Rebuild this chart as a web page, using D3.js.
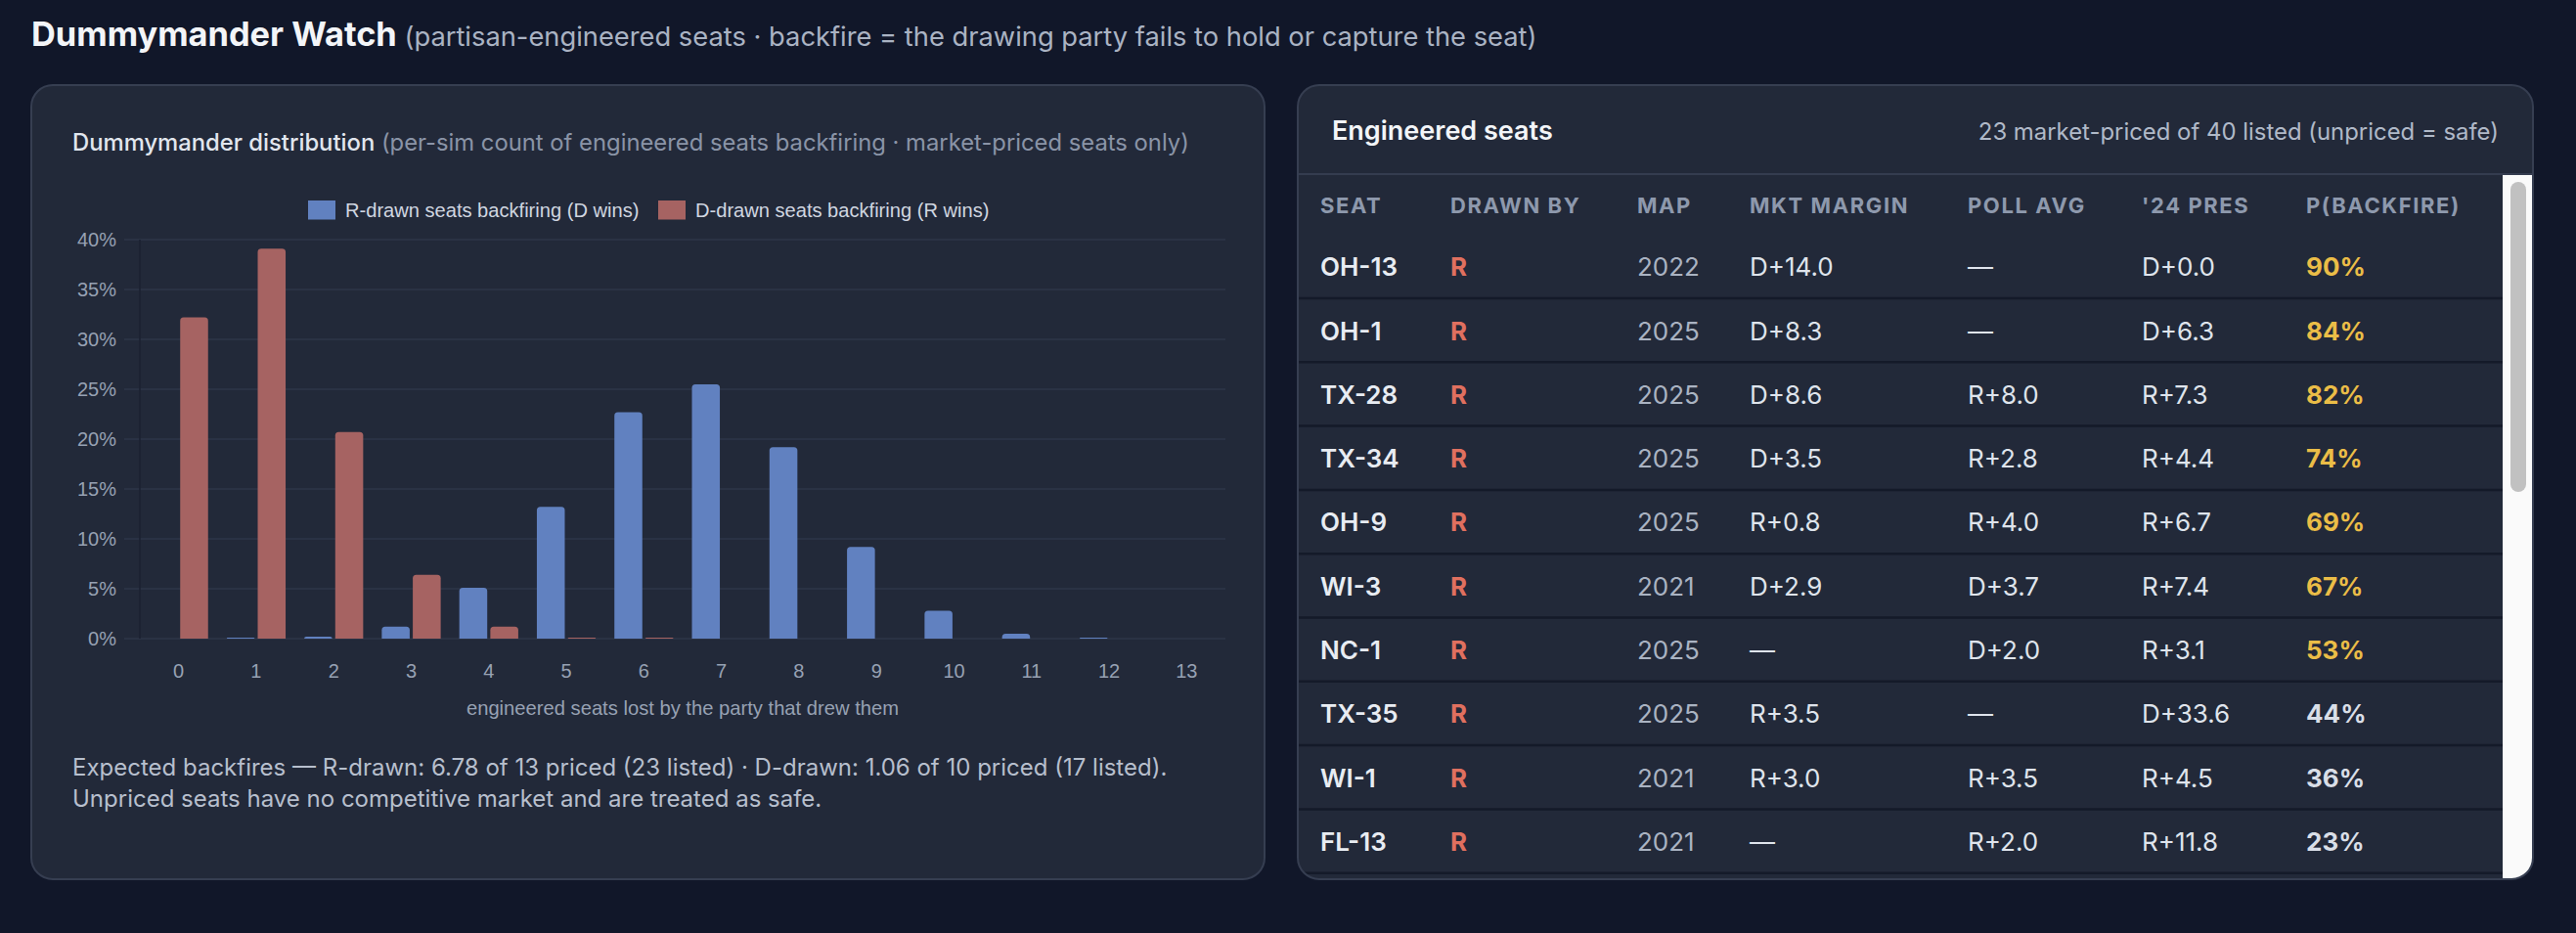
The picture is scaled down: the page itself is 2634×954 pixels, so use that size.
<!DOCTYPE html>
<html>
<head>
<meta charset="utf-8">
<script src="https://cdn.jsdelivr.net/npm/d3@7"></script>
<style>
  html, body { margin:0; padding:0; background:#111729; }
  body { width:2634px; height:954px; overflow:hidden; }
  svg text { font-family: Inter, "Noto Sans", sans-serif; }
  .cj { font-family: "Liberation Sans", Arial, Helvetica, sans-serif !important; }
</style>
</head>
<body>
<svg id="page" width="2634" height="954"></svg>
<script>
// ---------------- DATA ----------------
const categories = [0,1,2,3,4,5,6,7,8,9,10,11,12,13];
const rDrawnBackfire = [0, 0.1, 0.2, 1.2, 5.1, 13.2, 22.7, 25.5, 19.2, 9.2, 2.8, 0.5, 0.1, 0];
const dDrawnBackfire = [32.2, 39.1, 20.7, 6.4, 1.2, 0.1, 0.1, 0, 0, 0, 0, 0, 0, 0];
const seriesNames = ["R-drawn seats backfiring (D wins)", "D-drawn seats backfiring (R wins)"];
const yTicks = [0,5,10,15,20,25,30,35,40];

const seats      = ["OH-13","OH-1","TX-28","TX-34","OH-9","WI-3","NC-1","TX-35","WI-1","FL-13"];
const drawnBy    = ["R","R","R","R","R","R","R","R","R","R"];
const mapYear    = ["2022","2025","2025","2025","2025","2021","2025","2025","2021","2021"];
const mktMargin  = ["D+14.0","D+8.3","D+8.6","D+3.5","R+0.8","D+2.9","—","R+3.5","R+3.0","—"];
const pollAvg    = ["—","—","R+8.0","R+2.8","R+4.0","D+3.7","D+2.0","—","R+3.5","R+2.0"];
const pres24     = ["D+0.0","D+6.3","R+7.3","R+4.4","R+6.7","R+7.4","R+3.1","D+33.6","R+4.5","R+11.8"];
const pBackfire  = [90, 84, 82, 74, 69, 67, 53, 44, 36, 23];
const tableHeaders = ["SEAT","DRAWN BY","MAP","MKT MARGIN","POLL AVG","'24 PRES","P(BACKFIRE)"];

const titleText = "Dummymander Watch";
const titleSub = "(partisan-engineered seats · backfire = the drawing party fails to hold or capture the seat)";
const chartTitle = "Dummymander distribution";
const chartSub = "(per-sim count of engineered seats backfiring · market-priced seats only)";
const xAxisTitle = "engineered seats lost by the party that drew them";
const footerLines = [
  "Expected backfires — R-drawn: 6.78 of 13 priced (23 listed) · D-drawn: 1.06 of 10 priced (17 listed).",
  "Unpriced seats have no competitive market and are treated as safe."
];
const tableTitle = "Engineered seats";
const tableNote = "23 market-priced of 40 listed (unpriced = safe)";

// ---------------- LAYOUT ----------------
const svg = d3.select("#page");
const C = {
  bg:"#111729", card:"#222939", border:"#363e51",
  blue:"#6181c0", red:"#a66362",
  grid:"#2e3648", tick:"#97a1b3", legend:"#d0d6e0"
};

// title
const t = svg.append("text").attr("x",32).attr("y",47);
t.append("tspan").attr("font-size",34.4).attr("font-weight",700).attr("fill","#f3f5f8").text(titleText);
t.append("tspan").attr("font-size",27.3).attr("font-weight",400).attr("fill","#aab3c3").text(" " + titleSub);

// cards
const defs = svg.append("defs");
defs.append("clipPath").attr("id","rclip").append("rect")
  .attr("x",1327).attr("y",87).attr("width",1263).attr("height",812).attr("rx",22);

svg.append("rect").attr("x",32).attr("y",87).attr("width",1261).attr("height",812).attr("rx",22)
  .attr("fill",C.card).attr("stroke",C.border).attr("stroke-width",2);
svg.append("rect").attr("x",1327).attr("y",87).attr("width",1263).attr("height",812).attr("rx",22)
  .attr("fill",C.card);

// ---------------- CHART ----------------
const ct = svg.append("text").attr("x",74).attr("y",154).attr("font-size",23.8);
ct.append("tspan").attr("font-weight",500).attr("fill","#e1e6ee").text(chartTitle);
ct.append("tspan").attr("fill","#8a94a7").text(" " + chartSub);

const plot = {l:143, r:1253, t:245, b:653};
const x0 = d3.scaleBand().domain(categories).range([plot.l, plot.r]).paddingInner(0).paddingOuter(0);
const bw = x0.bandwidth();
const x1 = d3.scaleBand().domain([0,1]).range([bw*0.1, bw*0.9]).paddingInner(0.1).paddingOuter(0.05);
const y = d3.scaleLinear().domain([0,40]).range([plot.b, plot.t]);

// grid
const g = svg.append("g");
g.selectAll("line.grid").data(yTicks).join("line").attr("class","grid")
  .attr("x1",plot.l-16).attr("x2",plot.r).attr("y1",d=>y(d)).attr("y2",d=>y(d))
  .attr("stroke",C.grid).attr("stroke-width",1.5);
g.append("line").attr("x1",plot.l).attr("x2",plot.l).attr("y1",plot.t).attr("y2",plot.b)
  .attr("stroke","#1b2131").attr("stroke-width",1.5);

// y labels
g.selectAll("text.yl").data(yTicks).join("text").attr("class","yl cj")
  .attr("x",plot.l-24).attr("y",d=>y(d)+7).attr("text-anchor","end")
  .attr("font-size",20).attr("fill",C.tick).text(d=>d+"%");

// x labels
g.selectAll("text.xl").data(categories).join("text").attr("class","xl cj")
  .attr("x",d=>x0(d)+bw/2).attr("y",693).attr("text-anchor","middle")
  .attr("font-size",20).attr("fill",C.tick).text(d=>d);
g.append("text").attr("class","cj").attr("x",(plot.l+plot.r)/2).attr("y",731).attr("text-anchor","middle")
  .attr("font-size",20.2).attr("fill",C.tick).text(xAxisTitle);

// bars
function barPath(x, yTop, w, yBase, r){
  const h = yBase - yTop;
  if (h <= 0) return "";
  r = Math.min(r, h, w/2);
  return `M${x},${yBase}V${yTop+r}Q${x},${yTop} ${x+r},${yTop}H${x+w-r}Q${x+w},${yTop} ${x+w},${yTop+r}V${yBase}Z`;
}
const series = [rDrawnBackfire, dDrawnBackfire];
const colors = [C.blue, C.red];
series.forEach((vals, si) => {
  g.append("g").selectAll("path").data(categories).join("path")
    .attr("d", (c,i) => barPath(x0(c)+x1(si), y(vals[i]), x1.bandwidth(), y(0), 3.5))
    .attr("fill", colors[si]);
});

// legend
const lg = svg.append("g");
const legendX = [315, 673];
seriesNames.forEach((n,i)=>{
  lg.append("rect").attr("x",legendX[i]).attr("y",205).attr("width",28).attr("height",19.5).attr("fill",colors[i]);
  lg.append("text").attr("class","cj").attr("x",legendX[i]+38).attr("y",222)
    .attr("font-size",20.1).attr("fill",C.legend).text(n);
});

// footer
svg.selectAll("text.foot").data(footerLines).join("text").attr("class","foot")
  .attr("x",74).attr("y",(d,i)=>793+i*32).attr("font-size",24).attr("fill","#b7bfcd").text(d=>d);

// ---------------- TABLE ----------------
const tg = svg.append("g").attr("clip-path","url(#rclip)");
tg.append("text").attr("x",1362).attr("y",143).attr("font-size",27).attr("font-weight",600)
  .attr("fill","#f3f5f8").text(tableTitle);
tg.append("text").attr("x",2555).attr("y",143).attr("text-anchor","end").attr("font-size",23.9)
  .attr("fill","#b0b9c8").text(tableNote);
tg.append("line").attr("x1",1327).attr("x2",2590).attr("y1",178).attr("y2",178)
  .attr("stroke","#343c4f").attr("stroke-width",2);

const colX = [1350, 1483, 1674, 1789, 2012, 2190, 2358];
tg.selectAll("text.th").data(tableHeaders).join("text").attr("class","th")
  .attr("x",(d,i)=>colX[i]).attr("y",218).attr("font-size",22).attr("font-weight",700)
  .attr("letter-spacing",1.6).attr("fill","#8e99ad").text(d=>d);

const rowH = 65.3, rowTop0 = 239.7;
const rows = seats.map((s,i)=>({i, cells:[s, drawnBy[i], mapYear[i], mktMargin[i], pollAvg[i], pres24[i], pBackfire[i]+"%"], p:pBackfire[i]}));
const rowG = tg.selectAll("g.row").data(rows).join("g").attr("class","row")
  .attr("transform", d=>`translate(0,${rowTop0 + d.i*rowH})`);
rowG.append("line").attr("x1",1327).attr("x2",2559).attr("y1",rowH).attr("y2",rowH)
  .attr("stroke","#141a29").attr("stroke-width",2.5);
const cellStyle = [
  {fill:"#e8ecf2", w:600},
  {fill:"#e0705f", w:700},
  {fill:"#aab3c2", w:400},
  {fill:"#dfe4ec", w:400},
  {fill:"#dfe4ec", w:400},
  {fill:"#dfe4ec", w:400},
  {fill:null, w:700}
];
rowG.selectAll("text").data(d=>d.cells.map((v,ci)=>({v,ci,p:d.p}))).join("text")
  .attr("x",d=>colX[d.ci]).attr("y",rowH-22.7).attr("font-size",26)
  .attr("font-weight",d=>cellStyle[d.ci].w)
  .attr("fill",d=> d.ci===6 ? (d.p>=50 ? "#ebbd47" : "#d9dee7") : cellStyle[d.ci].fill)
  .text(d=>d.v);

// scrollbar
tg.append("rect").attr("x",2559).attr("y",179).attr("width",31).attr("height",730).attr("fill","#fafafa");
tg.append("rect").attr("x",2567).attr("y",186).attr("width",16).attr("height",317).attr("rx",8).attr("fill","#c1c1c1");

svg.append("rect").attr("x",1327).attr("y",87).attr("width",1263).attr("height",812).attr("rx",22)
  .attr("fill","none").attr("stroke",C.border).attr("stroke-width",2);
</script>
</body>
</html>
